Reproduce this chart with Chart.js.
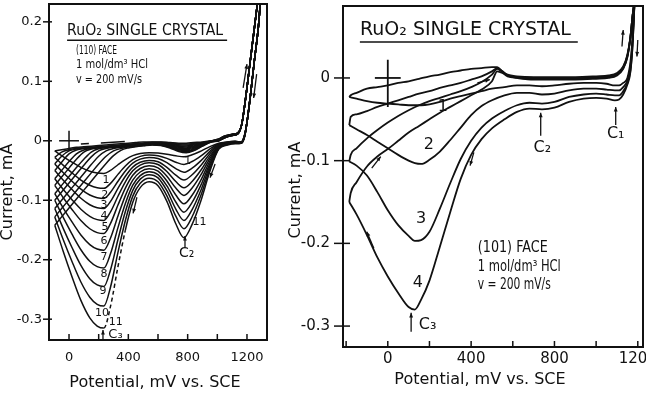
<!DOCTYPE html>
<html>
<head>
<meta charset="utf-8">
<script src="https://cdn.jsdelivr.net/npm/chart.js@4.4.1/dist/chart.umd.min.js"></script>
<style>
  html, body { margin: 0; padding: 0; background: #fff; }
  body { width: 646px; height: 394px; position: relative; overflow: hidden; }
  canvas { position: absolute; top: 0; }
  #face110 { left: 0; }
  #face101 { left: 285px; }
</style>
</head>
<body>
<canvas id="face110" width="285" height="394"></canvas>
<canvas id="face101" width="361" height="394"></canvas>
<script>
// ==================== DATA: (110) FACE, cycles 1..11 ====================
const cathodicMv110 = [-96, -40, 20, 80, 140, 190, 235, 280, 330, 380, 430, 480, 540, 600, 660, 720, 775, 830, 890, 950, 1010, 1070, 1120, 1160, 1185, 1205, 1225, 1250, 1280, 1310];
const cathodic110 = [
    [-0.017, -0.0265, -0.036, -0.0447, -0.0512, -0.0542, -0.055, -0.0498, -0.0403, -0.0316, -0.0249, -0.0214, -0.020, -0.0205, -0.0225, -0.0253, -0.027, -0.0236, -0.0173, -0.0098, -0.004, -0.002, -0.001, -0.002, 0.011, 0.04, 0.08, 0.135, 0.2, 0.31],
    [-0.028, -0.041, -0.054, -0.066, -0.0748, -0.079, -0.080, -0.0716, -0.0565, -0.0425, -0.0318, -0.0262, -0.024, -0.0251, -0.0296, -0.036, -0.040, -0.0348, -0.0253, -0.0138, -0.005, -0.002, -0.001, -0.002, 0.011, 0.04, 0.08, 0.135, 0.2, 0.31],
    [-0.039, -0.0535, -0.068, -0.0813, -0.0912, -0.0958, -0.097, -0.0867, -0.068, -0.0508, -0.0377, -0.0308, -0.028, -0.0298, -0.0368, -0.0468, -0.053, -0.046, -0.0333, -0.0178, -0.006, -0.003, -0.002, -0.002, 0.010, 0.04, 0.08, 0.135, 0.2, 0.31],
    [-0.050, -0.066, -0.082, -0.0967, -0.1076, -0.1127, -0.114, -0.1019, -0.080, -0.0597, -0.0443, -0.0362, -0.033, -0.0353, -0.0446, -0.0578, -0.066, -0.0572, -0.0412, -0.0218, -0.007, -0.003, -0.002, -0.003, 0.010, 0.04, 0.08, 0.135, 0.2, 0.31],
    [-0.064, -0.0815, -0.099, -0.1151, -0.127, -0.1326, -0.134, -0.1195, -0.0933, -0.069, -0.0506, -0.0409, -0.037, -0.0399, -0.0517, -0.0685, -0.079, -0.0684, -0.0492, -0.0258, -0.008, -0.004, -0.002, -0.003, 0.010, 0.04, 0.08, 0.135, 0.2, 0.31],
    [-0.075, -0.0953, -0.1155, -0.1341, -0.1479, -0.1544, -0.156, -0.1389, -0.1081, -0.0796, -0.058, -0.0466, -0.042, -0.0455, -0.0595, -0.0795, -0.092, -0.0795, -0.0571, -0.0298, -0.009, -0.004, -0.003, -0.003, 0.009, 0.04, 0.08, 0.135, 0.2, 0.31],
    [-0.089, -0.1128, -0.1365, -0.1584, -0.1745, -0.1821, -0.184, -0.1635, -0.1265, -0.0922, -0.0662, -0.0525, -0.047, -0.0511, -0.0677, -0.0913, -0.106, -0.0916, -0.0657, -0.034, -0.010, -0.005, -0.003, -0.003, 0.009, 0.04, 0.08, 0.135, 0.2, 0.31],
    [-0.100, -0.1285, -0.157, -0.1832, -0.2026, -0.2117, -0.214, -0.1897, -0.146, -0.1055, -0.0747, -0.0585, -0.052, -0.0568, -0.0758, -0.103, -0.120, -0.1037, -0.0742, -0.0383, -0.011, -0.005, -0.003, -0.004, 0.009, 0.04, 0.08, 0.135, 0.2, 0.31],
    [-0.114, -0.1468, -0.1795, -0.2096, -0.2319, -0.2424, -0.245, -0.2168, -0.166, -0.119, -0.0833, -0.0645, -0.057, -0.0624, -0.084, -0.1148, -0.134, -0.1157, -0.0828, -0.0425, -0.012, -0.006, -0.004, -0.004, 0.008, 0.04, 0.08, 0.135, 0.2, 0.31],
    [-0.128, -0.1655, -0.203, -0.2375, -0.263, -0.275, -0.278, -0.2458, -0.1877, -0.134, -0.0931, -0.0716, -0.063, -0.069, -0.0928, -0.1268, -0.148, -0.1278, -0.0913, -0.0468, -0.013, -0.006, -0.004, -0.004, 0.008, 0.04, 0.08, 0.135, 0.2, 0.31],
    [-0.142, -0.1853, -0.2285, -0.2683, -0.2977, -0.3115, -0.315, -0.2781, -0.2117, -0.1502, -0.1034, -0.0788, -0.069, -0.0756, -0.1019, -0.1395, -0.163, -0.1406, -0.1004, -0.0513, -0.014, -0.007, -0.005, -0.004, 0.008, 0.04, 0.08, 0.135, 0.2, 0.31]
];
const anodicMv110 = [-96, -50, 0, 50, 100, 150, 200, 250, 300, 350, 400, 450, 500, 560, 620, 680, 740, 790, 840, 900, 960, 1010, 1050, 1100, 1140, 1165, 1190, 1220, 1250, 1280, 1310];
const anodic110 = [
    [-0.017, -0.015, -0.013, -0.011, -0.010, -0.009, -0.008, -0.007, -0.006, -0.005, -0.004, -0.003, -0.002, -0.002, -0.002, -0.003, -0.004, -0.004, -0.003, -0.002, 0.000, 0.003, 0.008, 0.011, 0.014, 0.028, 0.07, 0.13, 0.19, 0.25, 0.31],
    [-0.028, -0.019, -0.015, -0.013, -0.012, -0.011, -0.010, -0.009, -0.008, -0.007, -0.006, -0.005, -0.004, -0.0025, -0.0026, -0.0039, -0.0054, -0.0056, -0.0044, -0.0027, -0.0002, 0.003, 0.008, 0.011, 0.014, 0.028, 0.07, 0.13, 0.19, 0.25, 0.31],
    [-0.039, -0.026, -0.017, -0.014, -0.0125, -0.0115, -0.0105, -0.0095, -0.0085, -0.0075, -0.0065, -0.0055, -0.0045, -0.003, -0.0032, -0.0048, -0.0068, -0.0072, -0.0058, -0.0034, -0.0004, 0.002, 0.007, 0.011, 0.014, 0.028, 0.07, 0.13, 0.19, 0.25, 0.31],
    [-0.050, -0.036, -0.022, -0.0155, -0.013, -0.012, -0.011, -0.010, -0.009, -0.008, -0.007, -0.006, -0.005, -0.0035, -0.0038, -0.0057, -0.0082, -0.0088, -0.0072, -0.0041, -0.0006, 0.002, 0.007, 0.010, 0.013, 0.028, 0.07, 0.13, 0.19, 0.25, 0.31],
    [-0.064, -0.050, -0.035, -0.022, -0.0155, -0.013, -0.0115, -0.0105, -0.0095, -0.0085, -0.0075, -0.0065, -0.0055, -0.004, -0.0044, -0.0066, -0.0096, -0.0104, -0.0086, -0.0048, -0.0008, 0.002, 0.007, 0.010, 0.013, 0.028, 0.07, 0.13, 0.19, 0.25, 0.31],
    [-0.075, -0.061, -0.046, -0.031, -0.019, -0.014, -0.012, -0.011, -0.010, -0.009, -0.008, -0.007, -0.006, -0.0045, -0.005, -0.0075, -0.011, -0.012, -0.010, -0.0055, -0.001, 0.001, 0.006, 0.010, 0.013, 0.028, 0.07, 0.13, 0.19, 0.25, 0.31],
    [-0.089, -0.075, -0.060, -0.045, -0.031, -0.019, -0.0135, -0.0115, -0.0105, -0.0095, -0.0085, -0.0075, -0.0065, -0.005, -0.0056, -0.0084, -0.0124, -0.0136, -0.0114, -0.0062, -0.0012, 0.001, 0.006, 0.010, 0.013, 0.028, 0.07, 0.13, 0.19, 0.25, 0.31],
    [-0.100, -0.086, -0.071, -0.056, -0.041, -0.027, -0.017, -0.013, -0.011, -0.010, -0.009, -0.008, -0.007, -0.0055, -0.0062, -0.0093, -0.0138, -0.0152, -0.0128, -0.0069, -0.0014, 0.001, 0.006, 0.009, 0.012, 0.028, 0.07, 0.13, 0.19, 0.25, 0.31],
    [-0.114, -0.100, -0.085, -0.070, -0.055, -0.040, -0.026, -0.017, -0.013, -0.011, -0.0095, -0.0085, -0.0075, -0.006, -0.0068, -0.0102, -0.0152, -0.0168, -0.0142, -0.0076, -0.0016, 0.000, 0.005, 0.009, 0.012, 0.028, 0.07, 0.13, 0.19, 0.25, 0.31],
    [-0.128, -0.114, -0.099, -0.084, -0.069, -0.054, -0.039, -0.026, -0.017, -0.013, -0.0105, -0.009, -0.008, -0.0065, -0.0074, -0.0111, -0.0166, -0.0184, -0.0156, -0.0083, -0.0018, 0.000, 0.005, 0.009, 0.012, 0.028, 0.07, 0.13, 0.19, 0.25, 0.31],
    [-0.142, -0.128, -0.113, -0.098, -0.083, -0.068, -0.053, -0.038, -0.025, -0.016, -0.012, -0.010, -0.0085, -0.007, -0.008, -0.012, -0.018, -0.020, -0.017, -0.009, -0.002, 0.000, 0.005, 0.009, 0.012, 0.028, 0.07, 0.13, 0.19, 0.25, 0.31]
];
const zeroDashMv110 = [80, 400];
const zeroDashmA110 = [-0.0055, -0.001];

// ==================== DATA: (101) FACE, cycles 1..4 ====================
const cathodicMv101 = [-185, -150, -100, -50, 0, 50, 100, 130, 160, 200, 250, 300, 350, 400, 450, 500, 560, 620, 680, 740, 800, 870, 940, 1000, 1050, 1090, 1110, 1130, 1150, 1165, 1175, 1185];
const cathodic101 = [
    [-0.023, -0.025, -0.028, -0.030, -0.031, -0.032, -0.033, -0.033, -0.033, -0.032, -0.029, -0.025, -0.022, -0.019, -0.016, -0.013, -0.011, -0.009, -0.009, -0.010, -0.009, -0.007, -0.006, -0.006, -0.007, -0.009, -0.009, -0.006, 0.000, 0.020, 0.050, 0.095],
    [-0.057, -0.062, -0.069, -0.077, -0.085, -0.093, -0.100, -0.103, -0.104, -0.099, -0.089, -0.075, -0.060, -0.045, -0.034, -0.027, -0.021, -0.018, -0.018, -0.020, -0.019, -0.015, -0.013, -0.013, -0.014, -0.015, -0.015, -0.011, -0.003, 0.015, 0.045, 0.095],
    [-0.101, -0.106, -0.118, -0.138, -0.160, -0.178, -0.191, -0.197, -0.196, -0.186, -0.158, -0.127, -0.098, -0.076, -0.060, -0.049, -0.040, -0.033, -0.030, -0.031, -0.029, -0.023, -0.020, -0.019, -0.020, -0.021, -0.021, -0.016, -0.006, 0.010, 0.040, 0.095],
    [-0.150, -0.165, -0.190, -0.217, -0.240, -0.260, -0.277, -0.280, -0.268, -0.245, -0.204, -0.162, -0.122, -0.093, -0.074, -0.061, -0.050, -0.041, -0.037, -0.038, -0.036, -0.029, -0.025, -0.024, -0.025, -0.027, -0.026, -0.020, -0.008, 0.008, 0.040, 0.095]
];
const anodicMv101 = [-185, -178, -150, -100, -50, 0, 50, 100, 150, 200, 250, 300, 350, 400, 450, 500, 525, 550, 575, 620, 700, 800, 900, 1000, 1060, 1100, 1130, 1150, 1165, 1175, 1185];
const anodic101 = [
    [-0.023, -0.021, -0.018, -0.013, -0.011, -0.009, -0.006, -0.004, -0.001, 0.002, 0.004, 0.007, 0.009, 0.011, 0.012, 0.013, 0.013, 0.008, 0.004, 0.002, 0.001, 0.001, 0.001, 0.002, 0.003, 0.006, 0.014, 0.028, 0.050, 0.075, 0.095],
    [-0.057, -0.047, -0.044, -0.040, -0.035, -0.031, -0.027, -0.023, -0.019, -0.016, -0.012, -0.009, -0.006, -0.002, 0.002, 0.008, 0.012, 0.008, 0.003, 0.001, 0.000, 0.000, 0.000, 0.001, 0.002, 0.005, 0.013, 0.027, 0.050, 0.075, 0.095],
    [-0.101, -0.093, -0.085, -0.073, -0.063, -0.054, -0.046, -0.039, -0.033, -0.028, -0.024, -0.020, -0.016, -0.011, -0.005, 0.004, 0.011, 0.007, 0.003, 0.000, -0.001, -0.001, -0.001, 0.000, 0.001, 0.004, 0.012, 0.026, 0.050, 0.075, 0.095],
    [-0.150, -0.139, -0.126, -0.107, -0.095, -0.086, -0.076, -0.066, -0.058, -0.050, -0.042, -0.035, -0.028, -0.021, -0.014, -0.004, 0.008, 0.006, 0.002, 0.000, -0.002, -0.002, -0.002, -0.001, 0.000, 0.003, 0.011, 0.025, 0.050, 0.075, 0.095]
];

// origin cross (mV, mA)
const crossMv110 = [-67, 67], crossmA110 = [0.017, -0.017];
const crossMv101 = [-62, 62], crossmA101 = [0.022, -0.035];

// ticks and tick labels
const xTicks110 = [0, 200, 400, 600, 800, 1000, 1200];
const xTicks101 = [-200, 0, 200, 400, 600, 800, 1000, 1200];
const xTickLabels = [0, 400, 800, 1200];
const yTicks110 = [-0.3, -0.2, -0.1, 0, 0.1, 0.2];
const yTicks101 = [-0.3, -0.2, -0.1, 0];

// ==================== LAYOUT / ANNOTATIONS ====================
const INK = '#111';
const FONT = '"DejaVu Sans", "Open Sans", sans-serif';

const notes110 = {
    texts: [
        { s: 'RuO₂ SINGLE CRYSTAL', x: -13, y: 0.184, size: 15, align: 'left', w: 156 },
        { s: '(110) FACE', x: 47, y: 0.152, size: 12, align: 'left', w: 41 },
        { s: '1 mol/dm³ HCl', x: 47, y: 0.127, size: 12, align: 'left', w: 72 },
        { s: 'v = 200 mV/s', x: 47, y: 0.102, size: 12, align: 'left', w: 66 },
        { s: '1', x: 250, y: -0.067, size: 11 }, { s: '2', x: 241, y: -0.092, size: 11 },
        { s: '3', x: 236, y: -0.109, size: 11 }, { s: '4', x: 236, y: -0.126, size: 11 },
        { s: '5', x: 243, y: -0.146, size: 11 }, { s: '6', x: 236, y: -0.168, size: 11 },
        { s: '7', x: 236, y: -0.196, size: 11 }, { s: '8', x: 236, y: -0.224, size: 11 },
        { s: '9', x: 229, y: -0.253, size: 11 }, { s: '10', x: 223, y: -0.29, size: 11 },
        { s: '11', x: 315, y: -0.305, size: 11 },
        { s: '1', x: 800, y: -0.0335, size: 11 }, { s: '11', x: 880, y: -0.137, size: 11 },
        { s: 'C₃', x: 265, y: -0.326, size: 13, align: 'left' },
        { s: 'C₂', x: 794, y: -0.19, size: 14 }
    ],
    rules: [[-13, 0.169, 1066, 0.169]],
    arrows: [[458, -0.095, 432, -0.122], [985, -0.039, 951, -0.062], [1174, 0.089, 1200, 0.129],
             [1265, 0.112, 1245, 0.072], [229, -0.334, 229, -0.318], [782, -0.180, 782, -0.160]],
    titles: [{ s: 'Current, mA', x: 8, y: 192, size: 16, w: 129, rot: true },
             { s: 'Potential, mV vs. SCE', x: 155, y: 383, size: 16, w: 184 }],
    yTickIn: 3, yTickOut: 6
};

const notes101 = {
    texts: [
        { s: 'RuO₂ SINGLE CRYSTAL', x: -134, y: 0.058, size: 19, align: 'left', w: 211 },
        { s: '(101) FACE', x: 432, y: -0.2056, size: 15, align: 'left', w: 70 },
        { s: '1 mol/dm³ HCl', x: 432, y: -0.2285, size: 15, align: 'left', w: 83 },
        { s: 'v = 200 mV/s', x: 432, y: -0.250, size: 15, align: 'left', w: 73 },
        { s: '1', x: 264, y: -0.0347, size: 16 }, { s: '2', x: 197, y: -0.081, size: 16 },
        { s: '3', x: 160, y: -0.17, size: 16 }, { s: '4', x: 144, y: -0.248, size: 16 },
        { s: 'C₃', x: 149, y: -0.299, size: 16, align: 'left' },
        { s: 'C₂', x: 742, y: -0.085, size: 16 }, { s: 'C₁', x: 1094, y: -0.067, size: 16 }
    ],
    rules: [[-134, 0.0435, 912, 0.0435]],
    arrows: [[430, -0.006, 490, -0.002], [-77, -0.109, -34, -0.095], [413, -0.090, 395, -0.106],
             [-67, -0.206, -101, -0.186], [1124, 0.038, 1130, 0.058], [1200, 0.046, 1196, 0.026],
             [112, -0.307, 112, -0.284], [734, -0.070, 734, -0.042], [1094, -0.057, 1094, -0.035]],
    titles: [{ s: 'Current, mA', x: 11, y: 190, size: 16, w: 125, rot: true },
             { s: 'Potential, mV vs. SCE', x: 195, y: 380, size: 16, w: 176 }],
    yTickIn: 7, yTickOut: 9
};

// ==================== DRAWING HELPERS ====================
function pts(xs, ys) {
    return xs.map((x, i) => ({ x: x, y: ys[i] }));
}

function drawArrow(ctx, x1, y1, x2, y2) {
    ctx.beginPath(); ctx.moveTo(x1, y1); ctx.lineTo(x2, y2); ctx.stroke();
    const a = Math.atan2(y2 - y1, x2 - x1), h = 5;
    ctx.beginPath();
    ctx.moveTo(x2, y2);
    ctx.lineTo(x2 - h * Math.cos(a - 0.4), y2 - h * Math.sin(a - 0.4));
    ctx.lineTo(x2 - h * Math.cos(a + 0.4), y2 - h * Math.sin(a + 0.4));
    ctx.closePath(); ctx.fill();
}

const inkPlugin = {
    id: 'ink',
    afterDraw(chart, args, o) {
        const ctx = chart.ctx, xs = chart.scales.x, ys = chart.scales.y, a = chart.chartArea;
        const px = v => xs.getPixelForValue(v), py = v => ys.getPixelForValue(v);
        ctx.save();
        ctx.strokeStyle = INK; ctx.fillStyle = INK;

        // frame
        ctx.lineWidth = 2;
        ctx.strokeRect(a.left, a.top, a.right - a.left, a.bottom - a.top);

        // tick marks: x inside, y across the frame
        ctx.lineWidth = 1.5;
        xs.ticks.forEach(t => {
            const x = px(t.value);
            ctx.beginPath(); ctx.moveTo(x, a.bottom); ctx.lineTo(x, a.bottom - 6); ctx.stroke();
        });
        ys.ticks.forEach(t => {
            const y = py(t.value);
            ctx.beginPath(); ctx.moveTo(a.left - o.yTickOut, y); ctx.lineTo(a.left + o.yTickIn, y); ctx.stroke();
        });

        // rules and arrows
        o.rules.forEach(r => {
            ctx.beginPath(); ctx.moveTo(px(r[0]), py(r[1])); ctx.lineTo(px(r[2]), py(r[3])); ctx.stroke();
        });
        ctx.lineWidth = 1.3;
        o.arrows.forEach(r => drawArrow(ctx, px(r[0]), py(r[1]), px(r[2]), py(r[3])));

        // annotation text
        ctx.textBaseline = 'middle';
        o.texts.forEach(t => {
            ctx.font = t.size + 'px ' + FONT;
            ctx.textAlign = t.align || 'center';
            if (t.w) ctx.fillText(t.s, px(t.x), py(t.y), t.w);
            else ctx.fillText(t.s, px(t.x), py(t.y));
        });

        // axis titles
        o.titles.forEach(t => {
            ctx.save();
            ctx.font = t.size + 'px ' + FONT;
            ctx.textAlign = 'center';
            ctx.translate(t.x, t.y);
            if (t.rot) ctx.rotate(-Math.PI / 2);
            ctx.fillText(t.s, 0, 0, t.w);
            ctx.restore();
        });
        ctx.restore();
    }
};

function curveSet(xs, ys, width, extra) {
    return Object.assign({
        data: pts(xs, ys),
        showLine: true,
        borderColor: INK,
        borderWidth: width,
        pointRadius: 0,
        cubicInterpolationMode: 'monotone',
        fill: false
    }, extra || {});
}

function buildChart(id, cfg) {
    return new Chart(document.getElementById(id), {
        type: 'scatter',
        data: { datasets: cfg.datasets },
        options: {
            responsive: false,
            animation: false,
            events: [],
            layout: { padding: cfg.padding },
            plugins: { legend: { display: false }, tooltip: { enabled: false }, ink: cfg.notes },
            scales: {
                x: {
                    type: 'linear', min: cfg.xMin, max: cfg.xMax,
                    grid: { display: false, drawTicks: false },
                    border: { display: false },
                    ticks: {
                        autoSkip: false, maxRotation: 0,
                        padding: cfg.xLabelPad, color: INK, font: { family: FONT, size: cfg.xFont },
                        callback: v => xTickLabels.includes(v) ? String(v) : ''
                    },
                    afterBuildTicks: s => { s.ticks = cfg.xTicks.map(v => ({ value: v })); },
                    afterFit: s => { s.height = cfg.xAxisHeight; s.paddingLeft = 0; s.paddingRight = 0; }
                },
                y: {
                    type: 'linear', min: cfg.yMin, max: cfg.yMax,
                    grid: { display: false, drawTicks: false },
                    border: { display: false },
                    ticks: {
                        autoSkip: false,
                        padding: cfg.yLabelPad, color: INK, font: { family: FONT, size: cfg.yFont },
                        callback: v => v === 0 ? '0' : v.toFixed(1)
                    },
                    afterBuildTicks: s => { s.ticks = cfg.yTicks.map(v => ({ value: v })); },
                    afterFit: s => { s.width = cfg.yAxisWidth; s.paddingTop = 0; s.paddingBottom = 0; }
                }
            }
        },
        plugins: [inkPlugin]
    });
}

// ==================== (110) PANEL ====================
const sets110 = [];
cathodic110.forEach((ys, i) => {
    const extra = {};
    if (i === cathodic110.length - 1) {
        // last cycle: the rising side of C3 is dashed
        extra.segment = { borderDash: c => (c.p0.parsed.x >= 235 && c.p1.parsed.x <= 380) ? [4, 3] : undefined };
    }
    sets110.push(curveSet(cathodicMv110, ys, 1.5, extra));
});
anodic110.forEach(ys => sets110.push(curveSet(anodicMv110, ys, 1.5)));
sets110.push(curveSet(zeroDashMv110, zeroDashmA110, 1.5, { borderDash: [8, 12, 24, 400], cubicInterpolationMode: 'default' }));
sets110.push(curveSet(crossMv110, [0, 0], 1.5, { cubicInterpolationMode: 'default' }));
sets110.push(curveSet([0, 0], crossmA110, 1.5, { cubicInterpolationMode: 'default' }));

buildChart('face110', {
    datasets: sets110,
    padding: { top: 4, right: 18, left: 0, bottom: 0 },
    xMin: -135, xMax: 1335, yMin: -0.335, yMax: 0.23,
    xTicks: xTicks110, yTicks: yTicks110,
    xAxisHeight: 54, yAxisWidth: 49, xLabelPad: 10, yLabelPad: 7,
    xFont: 13, yFont: 13,
    notes: notes110
});

// ==================== (101) PANEL ====================
const sets101 = [];
cathodic101.forEach(ys => sets101.push(curveSet(cathodicMv101, ys, 1.8)));
anodic101.forEach(ys => sets101.push(curveSet(anodicMv101, ys, 1.8)));
sets101.push(curveSet(crossMv101, [0, 0], 1.8, { cubicInterpolationMode: 'default' }));
sets101.push(curveSet([0, 0], crossmA101, 1.8, { cubicInterpolationMode: 'default' }));

buildChart('face101', {
    datasets: sets101,
    padding: { top: 6, right: 3, left: 0, bottom: 0 },
    xMin: -215, xMax: 1225, yMin: -0.3253, yMax: 0.087,
    xTicks: xTicks101, yTicks: yTicks101,
    xAxisHeight: 47, yAxisWidth: 58, xLabelPad: 3, yLabelPad: 13,
    xFont: 15, yFont: 15,
    notes: notes101
});
</script>
</body>
</html>
